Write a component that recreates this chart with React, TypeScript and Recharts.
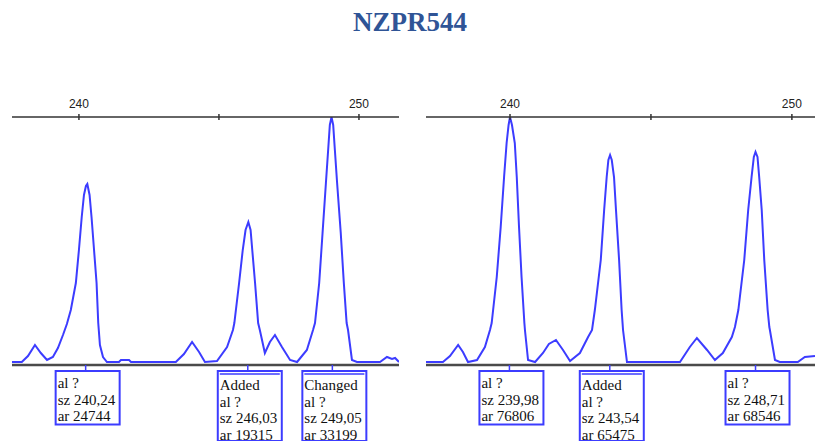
import { LineChart, Line, XAxis, YAxis, ReferenceLine, ReferenceDot } from "recharts";

const BLUE = "#3c3cff";

// left panel trace (size in bp, height in rfu)
const leftSize = [
  237.61, 237.96, 238.18, 238.43, 238.64, 238.86, 239.07, 239.25, 239.43, 239.57, 239.71, 239.89,
  240.0, 240.1, 240.18, 240.25, 240.3, 240.38, 240.45, 240.54, 240.63, 240.69, 240.75, 240.86, 241.0,
  241.43, 241.5, 241.79, 241.86, 243.46, 243.75, 244.04, 244.29, 244.5, 244.93, 245.29, 245.5, 245.55,
  245.72, 245.85, 245.95, 246.05, 246.13, 246.19, 246.29, 246.4, 246.46, 246.64, 246.82, 247.0, 247.25,
  247.54, 247.79, 248.14, 248.36, 248.43, 248.58, 248.7, 248.82, 248.9, 248.96, 249.02, 249.08, 249.14,
  249.22, 249.35, 249.46, 249.56, 249.61, 249.75, 249.93, 250.75, 251.0, 251.18, 251.29, 251.43,
];
const leftRfu = [
  10, 10, 70, 180, 100, 30, 60, 150, 280, 390, 530, 800,
  1130, 1460, 1680, 1770, 1790, 1680, 1460, 1130, 800, 400, 180, 60, 10,
  10, 30, 30, 10, 10, 90, 210, 110, 10, 20, 160, 330, 400,
  800, 1130, 1330, 1410, 1330, 1130, 800, 400, 330, 100, 210, 280, 160,
  30, 10, 130, 330, 400, 800, 1300, 1800, 2130, 2380, 2460, 2380, 2130,
  1800, 1300, 800, 400, 330, 30, 10, 10, 60, 40, 50, 10,
];

// right panel trace
const rightSize = [
  237.02, 237.62, 237.87, 238.16, 238.33, 238.51, 238.83, 239.11, 239.29, 239.35, 239.53, 239.67,
  239.79, 239.88, 239.95, 240.0, 240.07, 240.17, 240.24, 240.32, 240.41, 240.51, 240.53, 240.64, 240.89,
  241.17, 241.38, 241.63, 241.88, 242.13, 242.48, 242.77, 242.91, 243.01, 243.22, 243.34, 243.43, 243.49,
  243.55, 243.61, 243.69, 243.76, 243.87, 243.96, 244.01, 244.15, 246.03, 246.38, 246.63, 246.99, 247.27,
  247.55, 247.87, 247.98, 248.1, 248.31, 248.45, 248.57, 248.65, 248.71, 248.78, 248.84, 248.93, 249.02,
  249.14, 249.2, 249.22, 249.4, 249.57, 250.21, 250.46, 250.82,
];
const rightRfu = [
  10, 10, 70, 180, 110, 10, 30, 160, 330, 400, 860, 1360,
  1860, 2200, 2380, 2460, 2380, 2200, 1860, 1360, 860, 400, 330, 30, 10,
  100, 190, 230, 130, 20, 100, 260, 330, 530, 1030, 1530, 1860, 2030,
  2080, 2030, 1860, 1530, 1030, 530, 330, 10, 10, 160, 250, 130, 30,
  100, 260, 360, 530, 1030, 1530, 1860, 2060, 2110, 2060, 1860, 1530, 1030,
  530, 360, 330, 30, 10, 10, 60, 70,
];

// allele call boxes
const leftCallSz = [240.24, 246.03, 249.05];
const leftCallAr = [24744, 19315, 33199];
const leftCallTag = ["", "Added", "Changed"];
const rightCallSz = [239.98, 243.54, 248.71];
const rightCallAr = [76806, 65475, 68546];
const rightCallTag = ["", "Added", ""];

const axisTicks = [240, 245, 250];
const labelledTicks = [240, 250];

const SizeTick = (props: any) => {
  const { x, y, payload } = props;
  return (
    <g>
      <line x1={x} x2={x} y1={y - 3} y2={y + 3} stroke="#333" strokeWidth={1.5} />
      {labelledTicks.includes(payload.value) && (
        <text x={x} y={y - 9} textAnchor="middle" fontSize={12} fill="#222" fontFamily="Liberation Sans, Arial, sans-serif">
          {payload.value}
        </text>
      )}
    </g>
  );
};

function CallBox({ cx, cy, tag, sz, ar }: any) {
  const lines = [...(tag ? [tag] : []), "al ?", `sz ${sz.toFixed(2).replace(".", ",")}`, `ar ${ar}`];
  const left = cx - 30;
  const top = cy + 6;
  const h = lines.length * 16.5 + 4;
  const dy = tag ? 2 : 0;
  return (
    <g>
      <line x1={cx} x2={cx} y1={cy} y2={top} stroke={BLUE} strokeWidth={1.5} />
      <rect x={left} y={top} width={64} height={h} fill="#fff" stroke={BLUE} strokeWidth={2} />
      {tag && <line x1={left + 2} x2={left + 62} y1={top + 3} y2={top + 3} stroke={BLUE} strokeWidth={1.5} />}
      {lines.map((t, i) => (
        <text key={i} x={left + 2} y={top + 17 + dy + i * 16.5} fontSize={15} fill="#111" fontFamily="Liberation Serif, Times New Roman, serif">
          {t}
        </text>
      ))}
    </g>
  );
}

function Panel({ size, rfu, domain, callSz, callAr, callTag, width, margin }: any) {
  const data = size.map((s: number, i: number) => ({ sz: s, rfu: rfu[i] }));
  return (
    <LineChart width={width} height={441} data={data} margin={margin}>
      <XAxis
        dataKey="sz"
        type="number"
        orientation="top"
        domain={domain}
        allowDataOverflow
        ticks={axisTicks}
        height={30}
        tickSize={0}
        tickMargin={0}
        tickLine={false}
        tick={<SizeTick />}
        axisLine={{ stroke: "#333", strokeWidth: 1.5 }}
      />
      <YAxis hide domain={[-20, 2460]} allowDataOverflow />
      <ReferenceLine y={-20} stroke="#4a4a4a" strokeWidth={2.5} />
      <Line type="linear" dataKey="rfu" stroke={BLUE} strokeWidth={2} dot={false} isAnimationActive={false} />
      {callSz.map((s: number, i: number) => (
        <ReferenceDot
          key={i}
          x={s}
          y={-20}
          ifOverflow="visible"
          shape={(p: any) => <CallBox cx={p.cx} cy={p.cy} tag={callTag[i]} sz={s} ar={callAr[i]} />}
        />
      ))}
    </LineChart>
  );
}

export default function App() {
  return (
    <div style={{ position: "absolute", left: 0, top: 0, width: 815, height: 441, background: "#fff", overflow: "hidden" }}>
      <div
        style={{
          position: "absolute", top: 5, left: 0, width: 810, paddingLeft: 5, textAlign: "center",
          fontFamily: "Liberation Serif, Times New Roman, serif", fontWeight: "bold", fontSize: 27,
          lineHeight: "34px", color: "#2F5496",
        }}
      >
        NZPR544
      </div>
      <div style={{ position: "absolute", left: 0, top: 0 }}>
        <Panel
          size={leftSize} rfu={leftRfu} domain={[237.61, 251.43]}
          callSz={leftCallSz} callAr={leftCallAr} callTag={leftCallTag}
          width={400} margin={{ top: 87, right: 1, left: 12, bottom: 76 }}
        />
      </div>
      <div style={{ position: "absolute", left: 410, top: 0 }}>
        <Panel
          size={rightSize} rfu={rightRfu} domain={[237.02, 250.82]}
          callSz={rightCallSz} callAr={rightCallAr} callTag={rightCallTag}
          width={405} margin={{ top: 87, right: 0, left: 16, bottom: 76 }}
        />
      </div>
    </div>
  );
}
